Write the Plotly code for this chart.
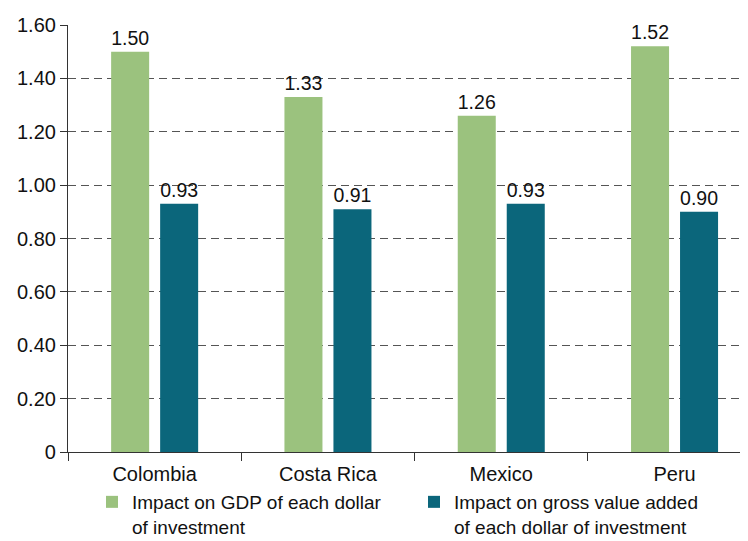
import plotly.graph_objects as go

categories = ["Colombia", "Costa Rica", "Mexico", "Peru"]
gdp_impact = [1.50, 1.33, 1.26, 1.52]
gva_impact = [0.93, 0.91, 0.93, 0.90]
series_names = ["Impact on GDP of each dollar<br>of investment",
                "Impact on gross value added<br>of each dollar of investment"]
y_tickvals = [0, 0.2, 0.4, 0.6, 0.8, 1.0, 1.2, 1.4, 1.6]
y_ticktext = ["0", "0.20", "0.40", "0.60", "0.80", "1.00", "1.20", "1.40", "1.60"]

GREEN = "#9BC27E"
TEAL = "#0B667B"
FONT = "Liberation Sans, Arial, sans-serif"
FS = 20
LEG_FS = 19

fig = go.Figure()
fig.add_trace(go.Bar(
    x=categories, y=gdp_impact, name=series_names[0], legend="legend",
    marker=dict(color=GREEN, line=dict(width=0)),
    text=[f"{v:.2f}" for v in gdp_impact], textposition="outside",
    textfont=dict(size=FS, color="#111111"), cliponaxis=False,
))
fig.add_trace(go.Bar(
    x=categories, y=gva_impact, name=series_names[1], legend="legend2",
    marker=dict(color=TEAL, line=dict(width=0)),
    text=[f"{v:.2f}" for v in gva_impact], textposition="outside",
    textfont=dict(size=FS, color="#111111"), cliponaxis=False,
))

legend_common = dict(orientation="h", xanchor="left", yanchor="top",
                     xref="container", yref="container", valign="top",
                     font=dict(size=LEG_FS, color="#111111"), itemwidth=30,
                     bgcolor="rgba(0,0,0,0)", borderwidth=0)

fig.update_layout(
    width=748, height=541,
    margin=dict(l=60, r=0, t=17, b=97, autoexpand=False),
    paper_bgcolor="white", plot_bgcolor="white",
    font=dict(family=FONT, size=FS, color="#111111"),
    barmode="group", bargap=0.4345, bargroupgap=0.224,
    showlegend=True,
    legend=dict(x=84 / 748, y=1 - 475 / 541, **legend_common),
    legend2=dict(x=406 / 748, y=1 - 475 / 541, **legend_common),
)
fig.update_xaxes(
    type="category", range=[-0.5, 3.47], tickson="boundaries",
    ticks="outside", ticklen=8, tickcolor="#333333", tickwidth=1.2,
    showline=True, linecolor="#333333", linewidth=1.2,
    showgrid=False, tickfont=dict(size=FS), ticklabelstandoff=4,
)
fig.update_yaxes(
    range=[0, 1.6], tickvals=y_tickvals, ticktext=y_ticktext,
    ticks="outside", ticklen=7, tickcolor="#333333", tickwidth=1.2,
    showline=True, linecolor="#333333", linewidth=1.2,
    showgrid=True, gridcolor="#555555", griddash="8px,5px", gridwidth=1,
    zeroline=False, tickfont=dict(size=FS),
)

fig.write_html("out.html")
